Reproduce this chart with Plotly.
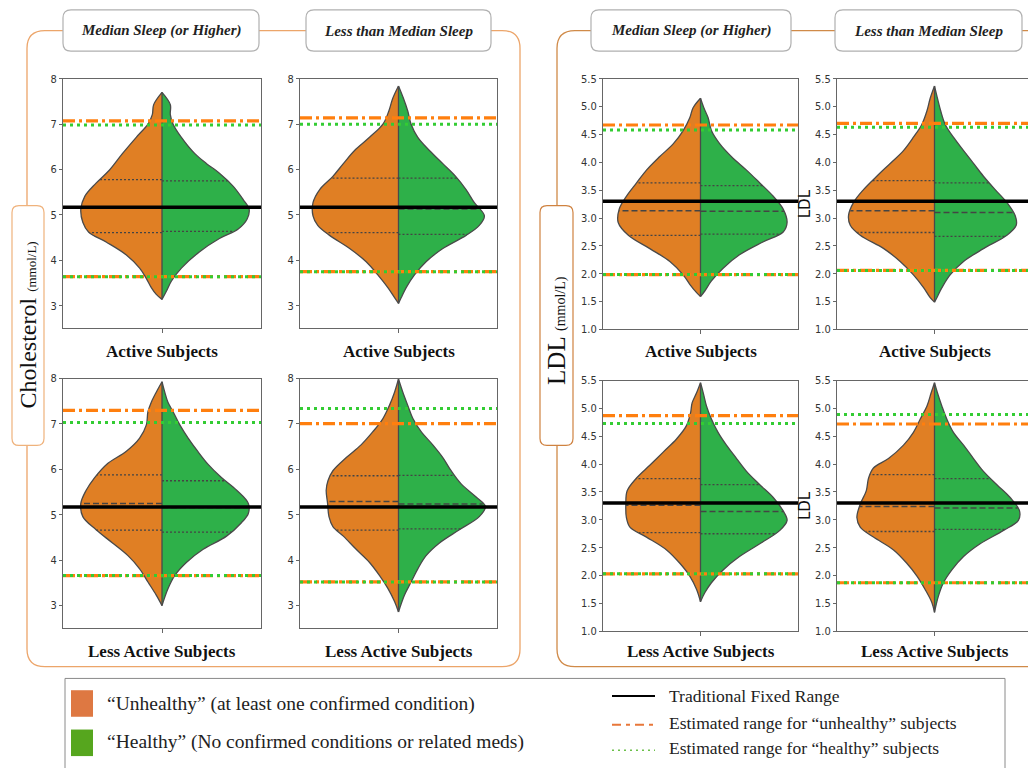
import numpy as np
import plotly.graph_objects as go

# ---------------- data ----------------
# Violin half-profiles: y levels (mmol/L) and half-widths (axis units)
# Cholesterol - Active - Median sleep (or higher)
C_AM_O_Y = [7.70, 7.43, 7.21, 7.00, 6.71, 6.35, 5.99, 5.70, 5.41, 5.13, 4.84, 4.62, 4.40, 4.12, 3.83, 3.61, 3.40, 3.25, 3.14]
C_AM_O_W = [0, 0.042, 0.049, 0.071, 0.13, 0.20, 0.265, 0.333, 0.39, 0.41, 0.40, 0.37, 0.28, 0.18, 0.113, 0.08, 0.054, 0.029, 0]
C_AM_G_Y = [7.70, 7.43, 7.21, 7.00, 6.71, 6.35, 6.13, 5.92, 5.63, 5.34, 5.13, 4.91, 4.69, 4.48, 4.19, 3.83, 3.54, 3.32, 3.14]
C_AM_G_W = [0, 0.042, 0.042, 0.056, 0.098, 0.166, 0.225, 0.29, 0.36, 0.41, 0.44, 0.43, 0.385, 0.29, 0.19, 0.098, 0.047, 0.022, 0]
# Cholesterol - Active - Less than median sleep
C_AL_O_Y = [7.84, 7.57, 7.29, 7.00, 6.71, 6.42, 6.13, 5.85, 5.56, 5.27, 4.98, 4.77, 4.55, 4.26, 3.97, 3.68, 3.40, 3.18, 3.05]
C_AL_O_W = [0, 0.029, 0.049, 0.079, 0.147, 0.223, 0.28, 0.333, 0.40, 0.434, 0.434, 0.41, 0.35, 0.248, 0.164, 0.105, 0.054, 0.02, 0]
C_AL_G_Y = [7.84, 7.57, 7.29, 7.00, 6.71, 6.42, 6.13, 5.85, 5.56, 5.27, 4.98, 4.77, 4.55, 4.26, 3.97, 3.68, 3.40, 3.18, 3.05]
C_AL_G_W = [0, 0.025, 0.047, 0.064, 0.098, 0.157, 0.225, 0.29, 0.343, 0.385, 0.436, 0.41, 0.343, 0.225, 0.14, 0.081, 0.039, 0.014, 0]
# Cholesterol - Less active - Median sleep (or higher)
C_LM_O_Y = [7.93, 7.70, 7.48, 7.27, 6.98, 6.69, 6.40, 6.11, 5.82, 5.54, 5.25, 4.96, 4.67, 4.38, 4.10, 3.81, 3.52, 3.23, 3.00]
C_LM_O_W = [0, 0.029, 0.054, 0.071, 0.079, 0.113, 0.18, 0.28, 0.34, 0.383, 0.41, 0.40, 0.333, 0.25, 0.172, 0.113, 0.071, 0.029, 0]
C_LM_G_Y = [7.93, 7.70, 7.48, 7.27, 6.98, 6.69, 6.40, 6.11, 5.82, 5.54, 5.25, 5.03, 4.82, 4.53, 4.24, 3.95, 3.66, 3.37, 3.00]
C_LM_G_W = [0, 0.014, 0.03, 0.056, 0.09, 0.132, 0.18, 0.233, 0.30, 0.377, 0.436, 0.436, 0.40, 0.326, 0.208, 0.123, 0.064, 0.03, 0]
# Cholesterol - Less active - Less than median sleep
C_LL_O_Y = [7.99, 7.70, 7.41, 7.12, 6.83, 6.54, 6.26, 5.97, 5.75, 5.54, 5.25, 4.96, 4.74, 4.53, 4.24, 3.95, 3.66, 3.38, 3.09, 2.86]
C_LL_O_W = [0, 0.02, 0.046, 0.079, 0.13, 0.19, 0.265, 0.333, 0.358, 0.367, 0.36, 0.353, 0.333, 0.28, 0.215, 0.147, 0.096, 0.054, 0.02, 0]
C_LL_G_Y = [7.99, 7.70, 7.41, 7.12, 6.83, 6.54, 6.26, 5.97, 5.68, 5.39, 5.18, 4.96, 4.67, 4.38, 4.10, 3.81, 3.52, 3.23, 2.86]
C_LL_G_W = [0, 0.022, 0.047, 0.073, 0.115, 0.174, 0.225, 0.267, 0.318, 0.394, 0.441, 0.41, 0.309, 0.208, 0.14, 0.098, 0.064, 0.03, 0]
# LDL - Active - Median sleep (or higher)
L_AM_O_Y = [5.15, 4.98, 4.80, 4.57, 4.33, 4.10, 3.86, 3.63, 3.39, 3.16, 2.92, 2.69, 2.45, 2.22, 1.98, 1.81, 1.66, 1.59]
L_AM_O_W = [0, 0.038, 0.055, 0.089, 0.14, 0.21, 0.277, 0.328, 0.38, 0.417, 0.422, 0.37, 0.26, 0.157, 0.089, 0.055, 0.02, 0]
L_AM_G_Y = [5.15, 4.98, 4.80, 4.57, 4.33, 4.10, 3.86, 3.63, 3.39, 3.16, 2.92, 2.75, 2.57, 2.34, 2.10, 1.87, 1.69, 1.59]
L_AM_G_W = [0, 0.017, 0.039, 0.056, 0.099, 0.159, 0.236, 0.304, 0.373, 0.424, 0.444, 0.424, 0.32, 0.2, 0.116, 0.056, 0.022, 0]
# LDL - Active - Less than median sleep
L_AL_O_Y = [5.37, 5.15, 4.92, 4.68, 4.45, 4.21, 3.98, 3.75, 3.51, 3.28, 3.04, 2.87, 2.69, 2.45, 2.22, 1.98, 1.75, 1.57, 1.49]
L_AL_O_W = [0, 0.022, 0.039, 0.065, 0.108, 0.159, 0.227, 0.296, 0.364, 0.415, 0.441, 0.432, 0.381, 0.26, 0.176, 0.108, 0.056, 0.022, 0]
L_AL_G_Y = [5.37, 5.15, 4.92, 4.68, 4.45, 4.21, 3.98, 3.75, 3.51, 3.28, 3.04, 2.87, 2.69, 2.45, 2.22, 1.98, 1.75, 1.57, 1.49]
L_AL_G_W = [0, 0.015, 0.032, 0.055, 0.097, 0.149, 0.2, 0.251, 0.311, 0.371, 0.414, 0.419, 0.371, 0.251, 0.149, 0.08, 0.038, 0.012, 0]
# LDL - Less active - Median sleep (or higher)
L_LM_O_Y = [5.46, 5.28, 5.10, 4.92, 4.69, 4.45, 4.22, 3.98, 3.75, 3.52, 3.28, 3.04, 2.87, 2.69, 2.46, 2.22, 1.99, 1.75, 1.53]
L_LM_O_W = [0, 0.02, 0.043, 0.051, 0.072, 0.123, 0.19, 0.26, 0.328, 0.376, 0.383, 0.38, 0.362, 0.277, 0.174, 0.106, 0.055, 0.02, 0]
L_LM_G_Y = [5.46, 5.28, 5.04, 4.81, 4.57, 4.34, 4.10, 3.87, 3.63, 3.40, 3.16, 2.99, 2.81, 2.57, 2.34, 2.10, 1.87, 1.69, 1.53]
L_LM_G_W = [0, 0.014, 0.031, 0.056, 0.09, 0.133, 0.185, 0.236, 0.304, 0.373, 0.424, 0.444, 0.407, 0.304, 0.2, 0.116, 0.056, 0.022, 0]
# LDL - Less active - Less than median sleep
L_LL_O_Y = [5.46, 5.28, 5.04, 4.81, 4.57, 4.34, 4.10, 3.93, 3.75, 3.52, 3.28, 3.04, 2.87, 2.69, 2.46, 2.22, 1.99, 1.75, 1.52, 1.34]
L_LL_O_W = [0, 0.017, 0.039, 0.073, 0.108, 0.159, 0.236, 0.313, 0.338, 0.35, 0.381, 0.398, 0.381, 0.313, 0.21, 0.142, 0.09, 0.048, 0.014, 0]
L_LL_G_Y = [5.46, 5.28, 5.04, 4.81, 4.57, 4.34, 4.10, 3.87, 3.63, 3.40, 3.16, 2.99, 2.81, 2.57, 2.34, 2.10, 1.87, 1.63, 1.34]
L_LL_G_W = [0, 0.015, 0.038, 0.063, 0.097, 0.149, 0.2, 0.251, 0.32, 0.388, 0.436, 0.43, 0.354, 0.234, 0.149, 0.089, 0.046, 0.02, 0]

# Quartiles [Q1, median, Q3] per half (orange = unhealthy, green = healthy)
QUART_O = [[4.61, 5.17, 5.78], [4.61, 5.17, 5.81], [4.66, 5.25, 5.88], [4.66, 5.29, 5.86],
           [2.69, 3.13, 3.63], [2.74, 3.13, 3.67], [2.77, 3.26, 3.74], [2.79, 3.24, 3.81]]
QUART_G = [[4.64, 5.15, 5.75], [4.57, 5.13, 5.81], [4.62, 5.16, 5.75], [4.69, 5.24, 5.87],
           [2.71, 3.12, 3.58], [2.67, 3.10, 3.63], [2.75, 3.15, 3.63], [2.83, 3.21, 3.74]]
# Reference ranges per panel
FIXED = [5.17, 5.17, 5.17, 5.17, 3.30, 3.30, 3.30, 3.30]
UNH_HI = [7.07, 7.14, 7.30, 7.01, 4.67, 4.70, 4.87, 4.72]
UNH_LO = [3.64, 3.75, 3.66, 3.52, 1.985, 2.06, 2.03, 1.87]
HEA_HI = [6.98, 7.00, 7.03, 7.34, 4.58, 4.63, 4.73, 4.89]
HEA_LO = [3.64, 3.75, 3.66, 3.52, 1.985, 2.06, 2.03, 1.87]

CHOL_TICKS = [3, 4, 5, 6, 7, 8]
LDL_TICKS = [1.0, 1.5, 2.0, 2.5, 3.0, 3.5, 4.0, 4.5, 5.0, 5.5]
HEADERS = ["Median Sleep (or Higher)", "Less than Median Sleep"]
ROW_LABELS = ["Active Subjects", "Less Active Subjects"]

# ---------------- layout helpers ----------------
W, H = 1028, 768
def px(x): return x / W
def py(y): return 1 - y / H

ORANGE = "#e07f24"
GREEN = "#2eb049"
OUTLINE = "#4a4a4a"

profiles = [
    (C_AM_O_Y, C_AM_O_W, C_AM_G_Y, C_AM_G_W),
    (C_AL_O_Y, C_AL_O_W, C_AL_G_Y, C_AL_G_W),
    (C_LM_O_Y, C_LM_O_W, C_LM_G_Y, C_LM_G_W),
    (C_LL_O_Y, C_LL_O_W, C_LL_G_Y, C_LL_G_W),
    (L_AM_O_Y, L_AM_O_W, L_AM_G_Y, L_AM_G_W),
    (L_AL_O_Y, L_AL_O_W, L_AL_G_Y, L_AL_G_W),
    (L_LM_O_Y, L_LM_O_W, L_LM_G_Y, L_LM_G_W),
    (L_LL_O_Y, L_LL_O_W, L_LL_G_Y, L_LL_G_W),
]
# pixel boxes of the 8 axes: (x0, x1, y0, y1), x1 of right LDL column is cut by the page
boxes = [
    (63, 261, 74, 328), (300, 497, 74, 328), (63, 261, 379, 633), (300, 497, 379, 633),
    (603, 798, 74, 329), (837, 1032, 74, 329), (603, 798, 381, 636), (837, 1032, 381, 636),
]

fig = go.Figure()
layout = {}
tickfont = dict(family="Liberation Sans Narrow, DejaVu Sans Condensed, Liberation Sans", size=11, color="#333")

for i in range(8):
    xn = "x" if i == 0 else f"x{i+1}"
    yn = "y" if i == 0 else f"y{i+1}"
    x0, x1, y0, y1 = boxes[i]
    wpx = x1 - x0
    xr_hi = 0.5
    cut = x1 > W
    if cut:
        xr_hi = 0.5 - (x1 - W) / wpx
        x1 = W
    is_ldl = i >= 4
    layout["xaxis" if i == 0 else f"xaxis{i+1}"] = dict(
        domain=[px(x0), px(x1)], range=[-0.5, xr_hi], anchor=yn,
        showgrid=False, zeroline=False, showline=True, mirror=True,
        linecolor="#666", linewidth=1, ticks="outside", ticklen=4, tickcolor="#666",
        tickvals=[0], ticktext=[""], fixedrange=True)
    ya = dict(
        domain=[py(y1), py(y0)], anchor=xn,
        range=[1.0, 5.5] if is_ldl else [2.5, 8.0],
        tickvals=LDL_TICKS if is_ldl else CHOL_TICKS,
        ticktext=[f"{t:.1f}" for t in LDL_TICKS] if is_ldl else [str(t) for t in CHOL_TICKS],
        showgrid=False, zeroline=False, showline=True, mirror=not cut,
        linecolor="#666", linewidth=1, ticks="outside", ticklen=3, tickcolor="#666",
        tickfont=tickfont, fixedrange=True)
    if cut:
        ya["title"] = dict(text="LDL", font=dict(family="DejaVu Sans", size=15, color="#111"), standoff=0)
    layout["yaxis" if i == 0 else f"yaxis{i+1}"] = ya

    oy, ow, gy, gw = profiles[i]
    # orange (left) half
    fig.add_trace(go.Scatter(x=[-w for w in ow], y=oy, xaxis=xn, yaxis=yn, mode="lines",
                             line=dict(color=OUTLINE, width=1.3, shape="spline", smoothing=1.0),
                             fill="toself", fillcolor=ORANGE, hoverinfo="skip", showlegend=False))
    fig.add_trace(go.Scatter(x=gw, y=gy, xaxis=xn, yaxis=yn, mode="lines",
                             line=dict(color=OUTLINE, width=1.3, shape="spline", smoothing=1.0),
                             fill="toself", fillcolor=GREEN, hoverinfo="skip", showlegend=False))
    fig.add_trace(go.Scatter(x=[0, 0], y=[min(oy[-1], gy[-1]), max(oy[0], gy[0])], xaxis=xn, yaxis=yn,
                             mode="lines", line=dict(color=OUTLINE, width=1.3),
                             hoverinfo="skip", showlegend=False))
    # quartile lines
    qx, qy, mx, my = [], [], [], []
    for side, ys, ws, qs in ((-1, oy, ow, QUART_O[i]), (1, gy, gw, QUART_G[i])):
        half = float(np.interp(qs[0], ys[::-1], ws[::-1]))
        qx += [0, side * half, None]; qy += [qs[0], qs[0], None]
        half = float(np.interp(qs[2], ys[::-1], ws[::-1]))
        qx += [0, side * half, None]; qy += [qs[2], qs[2], None]
        half = float(np.interp(qs[1], ys[::-1], ws[::-1]))
        mx += [0, side * half, None]; my += [qs[1], qs[1], None]
    fig.add_trace(go.Scatter(x=qx, y=qy, xaxis=xn, yaxis=yn, mode="lines",
                             line=dict(color="#444", width=1.3, dash="2px,2px"),
                             hoverinfo="skip", showlegend=False))
    fig.add_trace(go.Scatter(x=mx, y=my, xaxis=xn, yaxis=yn, mode="lines",
                             line=dict(color="#444", width=1.5, dash="6px,3px"),
                             hoverinfo="skip", showlegend=False))
    # reference ranges
    xs = [-0.5, 0.5, None, -0.5, 0.5]
    fig.add_trace(go.Scatter(x=xs, y=[UNH_HI[i], UNH_HI[i], None, UNH_LO[i], UNH_LO[i]], xaxis=xn, yaxis=yn,
                             mode="lines", line=dict(color="#ff7f0e", width=3.2, dash="12px,4px,3px,4px"),
                             hoverinfo="skip", showlegend=False))
    fig.add_trace(go.Scatter(x=xs, y=[HEA_HI[i], HEA_HI[i], None, HEA_LO[i], HEA_LO[i]], xaxis=xn, yaxis=yn,
                             mode="lines", line=dict(color="#33cc33", width=3, dash="3px,4px"),
                             hoverinfo="skip", showlegend=False))
    fig.add_trace(go.Scatter(x=[-0.5, 0.5], y=[FIXED[i], FIXED[i]], xaxis=xn, yaxis=yn,
                             mode="lines", line=dict(color="black", width=3.5),
                             hoverinfo="skip", showlegend=False))

# ---------------- decorations ----------------
def rrect(x0, y0, x1, y1, r, color, width=1.2, fill="rgba(0,0,0,0)"):
    rx, ry = r, r
    pts = [
        ("M", (x0 + rx, y0)), ("L", (x1 - rx, y0)), ("Q", (x1, y0), (x1, y0 + ry)),
        ("L", (x1, y1 - ry)), ("Q", (x1, y1), (x1 - rx, y1)), ("L", (x0 + rx, y1)),
        ("Q", (x0, y1), (x0, y1 - ry)), ("L", (x0, y0 + ry)), ("Q", (x0, y0), (x0 + rx, y0)),
    ]
    path = ""
    for p in pts:
        cmd = p[0]
        coords = " ".join(f"{px(a):.5f},{py(b):.5f}" for a, b in p[1:])
        path += f"{cmd} {coords} "
    path += "Z"
    return dict(type="path", xref="paper", yref="paper", path=path,
                line=dict(color=color, width=width), fillcolor=fill, layer="above")

shapes = []
# group boxes
shapes.append(rrect(27, 25, 520, 672, 18, "#eca56a", 1.3))
shapes.append(rrect(557, 25, 1060, 672, 18, "#d08a48", 1.3))
# header boxes
for (a, b) in [(63, 259), (306, 491), (591, 791), (835, 1022)]:
    shapes.append(rrect(a, 4, b, 46, 8, "#b0b0b0", 1.2, "white"))
# side label boxes
shapes.append(rrect(12, 203, 44, 447, 7, "#efb27c", 1.2, "white"))
shapes.append(rrect(540, 203, 573, 447, 7, "#cf8240", 1.2, "white"))
# legend box
shapes.append(dict(type="rect", xref="paper", yref="paper", x0=px(65), x1=px(1005), y0=py(800), y1=py(684),
                   line=dict(color="#8a8a8a", width=1), fillcolor="white", layer="above"))
shapes.append(dict(type="rect", xref="paper", yref="paper", x0=px(71), x1=px(93), y0=py(723), y1=py(696),
                   line=dict(width=0), fillcolor="#de7842", layer="above"))
shapes.append(dict(type="rect", xref="paper", yref="paper", x0=px(71), x1=px(93), y0=py(763), y1=py(736),
                   line=dict(width=0), fillcolor="#56a61e", layer="above"))
shapes.append(dict(type="line", xref="paper", yref="paper", x0=px(612), x1=px(655), y0=py(702), y1=py(702),
                   line=dict(color="black", width=2), layer="above"))
shapes.append(dict(type="line", xref="paper", yref="paper", x0=px(612), x1=px(655), y0=py(731), y1=py(731),
                   line=dict(color="#e8773a", width=2, dash="9px,5px,4px,5px"), layer="above"))
shapes.append(dict(type="line", xref="paper", yref="paper", x0=px(612), x1=px(655), y0=py(757), y1=py(757),
                   line=dict(color="#6cc04a", width=1.5, dash="2px,4px"), layer="above"))

ann = []
serif = "Liberation Serif, DejaVu Serif, serif"
head_centers = [(161, 25), (398.5, 25), (691, 25), (928.5, 25)]
for k, (cx, cy) in enumerate(head_centers):
    ann.append(dict(x=px(cx), y=py(cy), xref="paper", yref="paper", showarrow=False,
                    text=f"<b><i>{HEADERS[k % 2]}</i></b>", font=dict(family=serif, size=15, color="#222"),
                    xanchor="center", yanchor="middle"))
for i in range(8):
    x0, x1, y0, y1 = boxes[i]
    cx = (x0 + x1) / 2
    cy = 351 if i in (0, 1, 4, 5) else 657
    ann.append(dict(x=px(cx), y=py(cy), xref="paper", yref="paper", showarrow=False,
                    text=f"<b>{ROW_LABELS[0 if i in (0, 1, 4, 5) else 1]}</b>",
                    font=dict(family=serif, size=17, color="#111"), xanchor="center", yanchor="middle"))
ann.append(dict(x=px(28), y=py(325), xref="paper", yref="paper", showarrow=False, textangle=-90,
                text="Cholesterol <span style='font-size:13px'>(mmol/L)</span>",
                font=dict(family=serif, size=24, color="#111"), xanchor="center", yanchor="middle"))
ann.append(dict(x=px(556.5), y=py(330), xref="paper", yref="paper", showarrow=False, textangle=-90,
                text="LDL <span style='font-size:14px'>(mmol/L)</span>",
                font=dict(family=serif, size=25, color="#111"), xanchor="center", yanchor="middle"))
for text, x, y, fs in [("“Unhealthy” (at least one confirmed condition)", 105, 710, 19.5),
                       ("“Healthy” (No confirmed conditions or related meds)", 105, 749, 19.5),
                       ("Traditional Fixed Range", 667, 702, 17.5),
                       ("Estimated range for “unhealthy” subjects", 667, 729, 17.5),
                       ("Estimated range for “healthy” subjects", 667, 755, 17.5)]:
    ann.append(dict(x=px(x), y=py(y), xref="paper", yref="paper", showarrow=False, text=text,
                    font=dict(family=serif, size=fs, color="#222"), xanchor="left", yanchor="middle"))

fig.update_layout(width=W, height=H, margin=dict(l=0, r=0, t=0, b=0),
                  paper_bgcolor="white", plot_bgcolor="white", showlegend=False,
                  shapes=shapes, annotations=ann, **layout)
fig.write_html("out.html", config={"displayModeBar": False},
               post_script="document.body.style.margin='0';document.body.style.overflow='hidden';")
